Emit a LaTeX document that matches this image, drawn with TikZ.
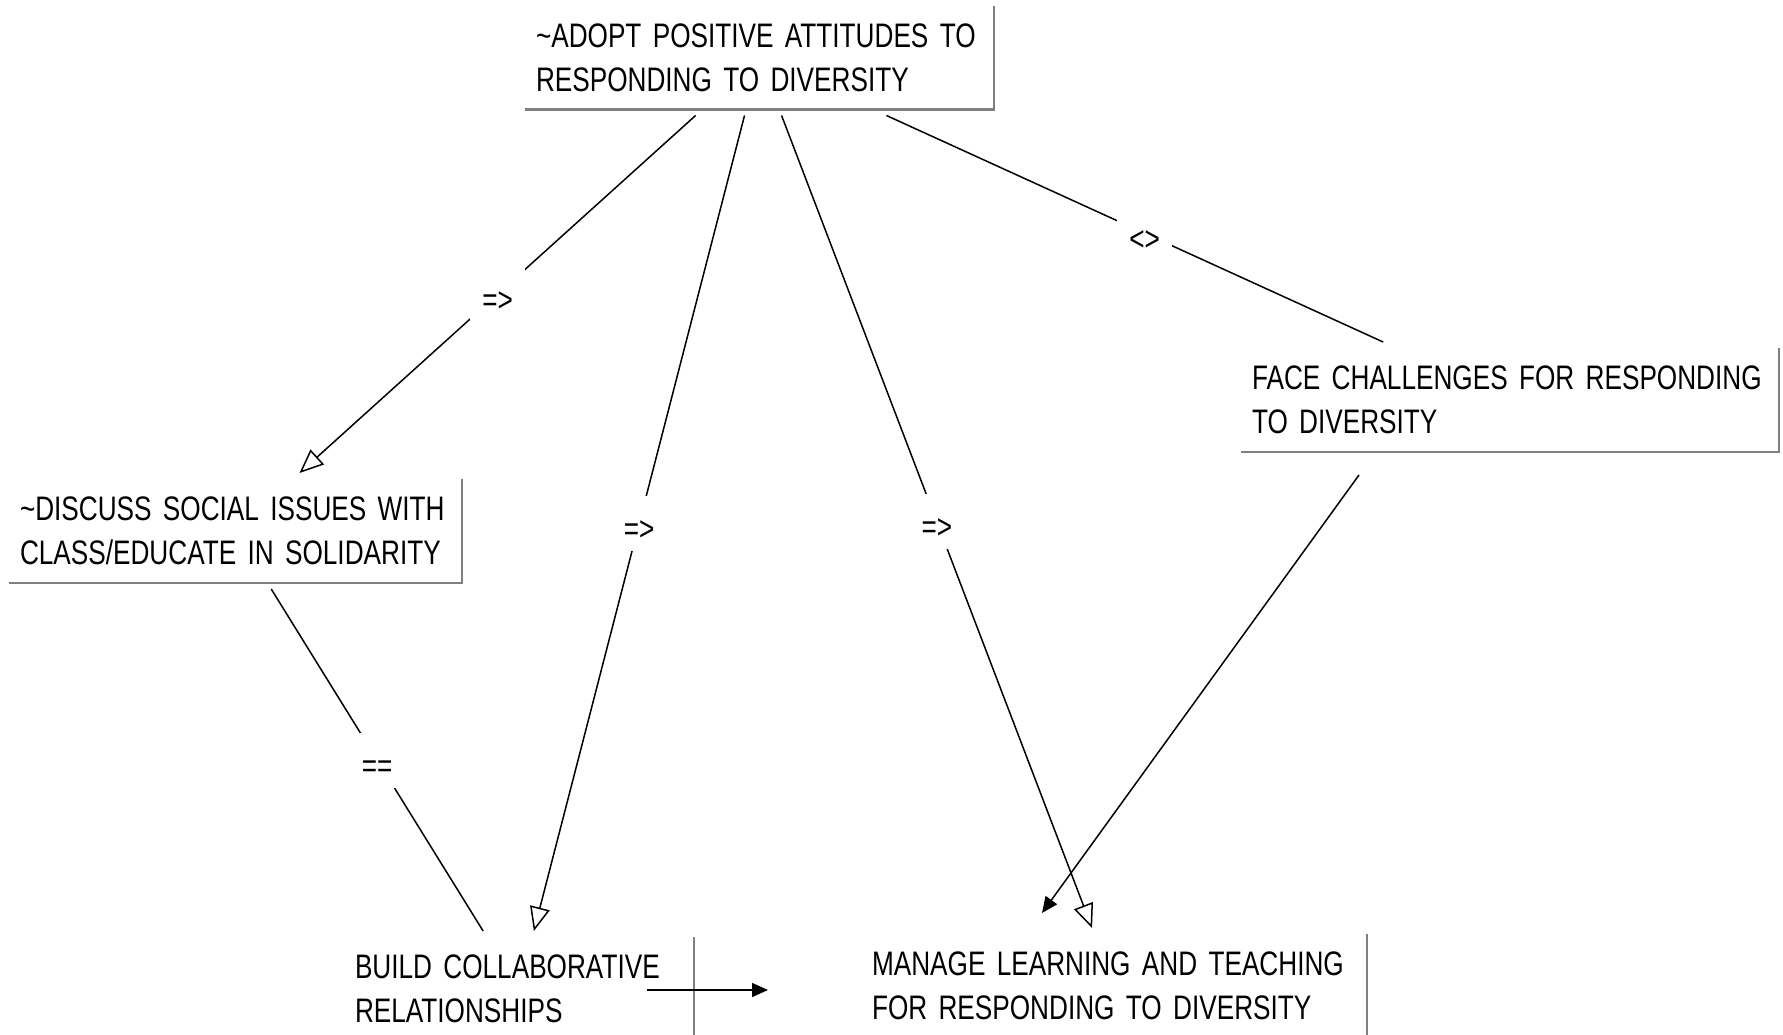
\documentclass[tikz,border=0pt]{standalone}
\usepackage{fontspec}
\setmainfont{Liberation Sans}
\newfontfamily\boxfont[FakeStretch=0.77]{Liberation Sans}
\usetikzlibrary{arrows.meta}
\begin{document}
\begin{tikzpicture}[x=1pt,y=-1pt,
  box/.style={rectangle, inner xsep=11pt, inner ysep=0pt, outer sep=6pt, minimum height=104pt, align=left, font=\boxfont\fontsize{34}{44}\selectfont},
  shadowline/.style={draw=gray, line width=2.2pt},
  conn/.style={line width=1.5pt, black},
  opentip/.style={conn, -{Triangle[open,length=24pt,width=20pt]}},
  filltip/.style={conn, -{Triangle[length=16pt,width=14pt]}},
  rel/.style={fill=white, inner sep=0pt, minimum width=55pt, minimum height=55pt, text height=34pt, text depth=0pt, font=\boxfont\fontsize{34}{44}\selectfont}]
\useasboundingbox (0,0) rectangle (1783,1034);
\node[box, text width=447pt] (A) at (759.5,57.5) {\mbox{\textasciitilde ADOPT POSITIVE ATTITUDES TO}\\\mbox{RESPONDING TO DIVERSITY}};
\node[box, text width=431pt] (B) at (235.5,531) {\mbox{\textasciitilde DISCUSS SOCIAL ISSUES WITH}\\\mbox{CLASS/EDUCATE IN SOLIDARITY}};
\node[box, text width=328pt] (C) at (519,989) {\mbox{BUILD COLLABORATIVE}\\\mbox{RELATIONSHIPS}};
\node[box, text width=484pt] (D) at (1114,986) {\mbox{MANAGE LEARNING AND TEACHING}\\\mbox{FOR RESPONDING TO DIVERSITY}};
\node[box, text width=516pt] (E) at (1510,400) {\mbox{FACE CHALLENGES FOR RESPONDING}\\\mbox{TO DIVERSITY}};
\foreach \n in {A,B,C,D,E}
  \draw[shadowline] ([xshift=-6pt,yshift=-6pt]\n.north east) -- ([xshift=-6pt,yshift=6pt]\n.south east) -- ([xshift=6pt,yshift=6pt]\n.south west);
\draw[opentip] (A) -- node[rel]{=>} (B);
\draw[opentip] (A) -- node[rel]{=>} (C);
\draw[opentip] (A) -- node[rel]{=>} (D);
\draw[conn] (A) -- node[rel, pos=0.52]{<>} (E);
\draw[conn] (B) -- node[rel]{==} (C);
\draw[filltip] ([xshift=124pt,yshift=-17pt]E.south west) -- ([xshift=187pt,yshift=15pt]D.north west);
\draw[filltip] ([xshift=-53pt,yshift=-1pt]C.east) -- ([xshift=-87pt,yshift=-4pt]D.west);
\end{tikzpicture}
\end{document}
